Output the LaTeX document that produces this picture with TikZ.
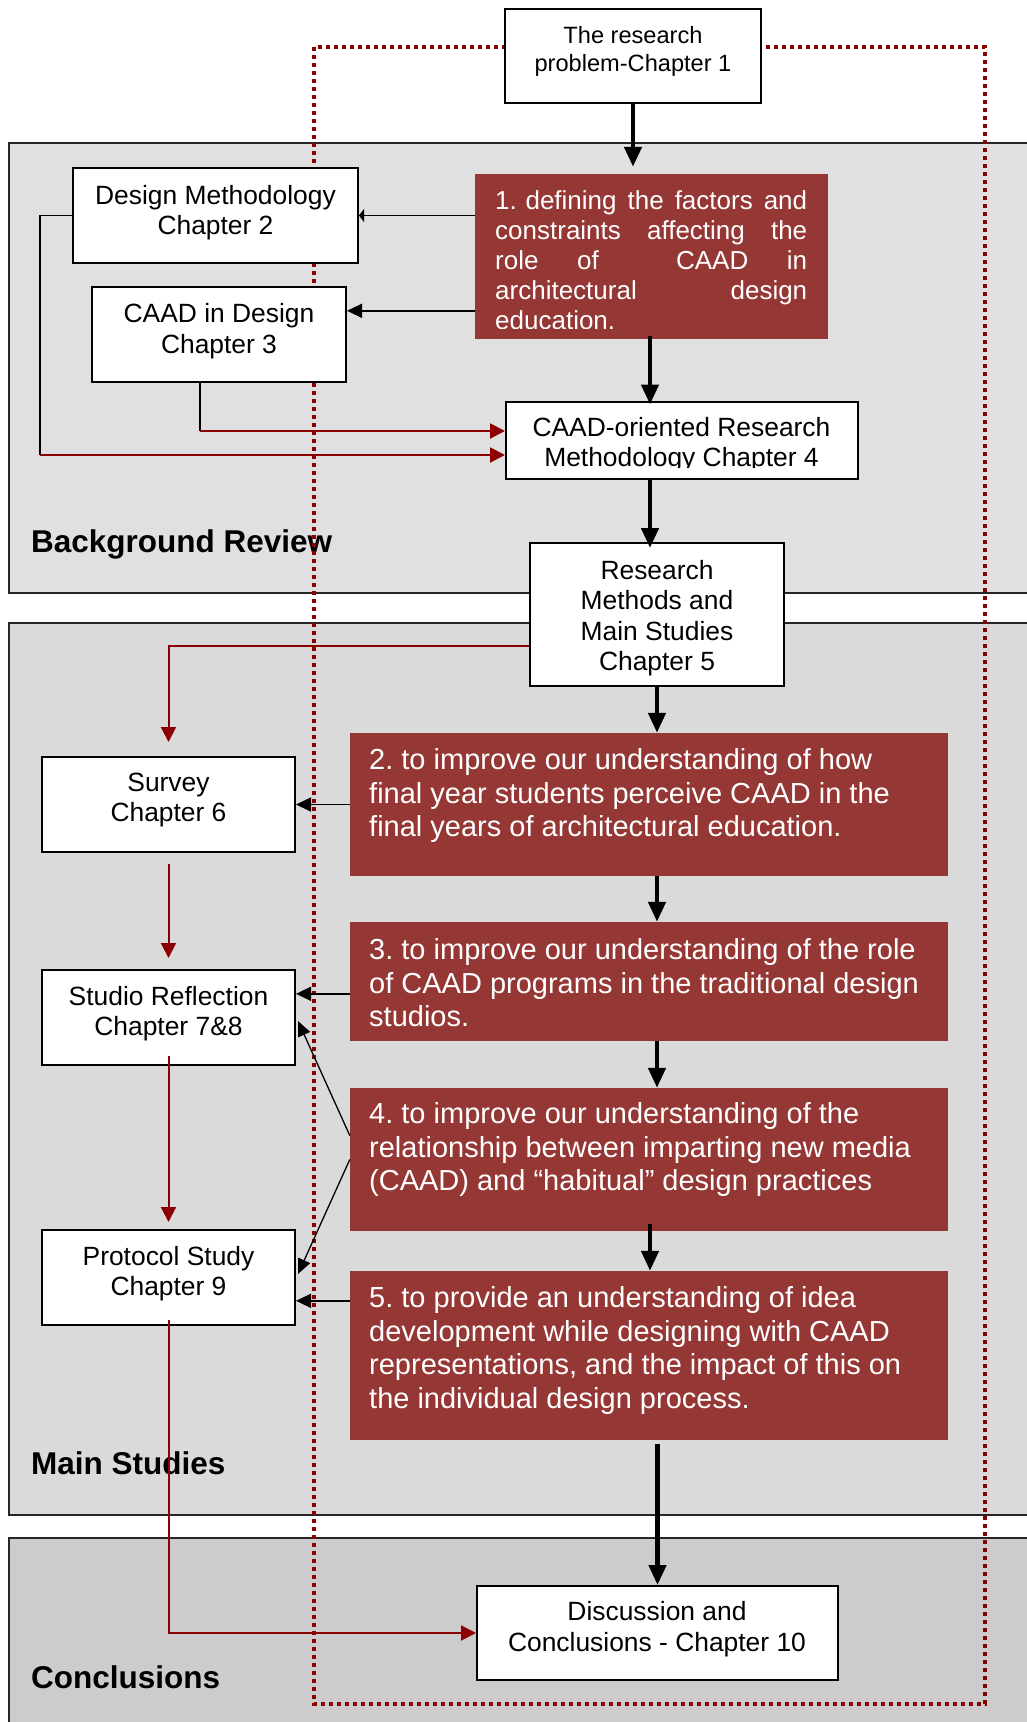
\documentclass[tikz,border=0pt]{standalone}
\usepackage{fontspec}
\setmainfont{Liberation Sans}
\usetikzlibrary{arrows.meta,calc}
\frenchspacing

\definecolor{panelA}{HTML}{E0E0E0}
\definecolor{panelB}{HTML}{DADADA}
\definecolor{panelC}{HTML}{CCCCCC}
\definecolor{aimred}{HTML}{953735}
\definecolor{linkred}{HTML}{8B0000}
\definecolor{dotred}{HTML}{8B0000}

\begin{document}
\begin{tikzpicture}[x=1pt,y=-1pt,
  panel/.style={draw=black!85, line width=1.8pt},
  chapbox/.style={draw=black, line width=2pt, fill=white, inner sep=0pt},
  aimbox/.style={fill=aimred, draw=none, inner sep=0pt},
  chaptext/.style={inner sep=0pt, align=center, anchor=north,
    font=\fontsize{26.4}{30.3}\selectfont},
  aimtext/.style={inner sep=0pt, align=left, anchor=north west, text=white,
    font=\fontsize{29}{33.8}\selectfont},
  paneltitle/.style={inner sep=0pt, anchor=base west,
    font=\bfseries\fontsize{31.5}{36}\selectfont},
  mainflow/.style={line width=4.5pt, -{Triangle[length=20pt,width=17pt]}},
  feed/.style={line width=1.5pt, -{Triangle[length=15pt,width=14pt]}},
  slant/.style={line width=1.3pt, -{Triangle[length=15pt,width=13pt]}},
  plainlink/.style={line width=1.5pt},
  redfeed/.style={draw=linkred, line width=2pt, -{Triangle[length=15pt,width=15pt]}},
  scopeline/.style={draw=dotred, line width=4pt, dash pattern=on 4pt off 4pt},
]
\useasboundingbox (0,0) rectangle (1027,1722);

% shaded bands
\path[panel, fill=panelA] (9,143) rectangle (1045,593);
\path[panel, fill=panelB] (9,623) rectangle (1045,1515);
\path[panel, fill=panelC] (9,1538) rectangle (1045,1740);

% band titles
\node[paneltitle] (t-bg)   at (31,552)  {Background Review};
\node[paneltitle] (t-main) at (31,1474) {Main Studies};
\node[paneltitle] (t-conc) at (31,1688) {Conclusions};

% dotted frame around the study core
\draw[scopeline] (314,47) rectangle (985,1704);

% chapter boxes
\node[chapbox, minimum width=256pt, minimum height=94pt]  (c1)  at (633,56) {};
\node[chapbox, minimum width=285pt, minimum height=95pt]  (ch2) at (215.5,215.5) {};
\node[chapbox, minimum width=254pt, minimum height=95pt]  (ch3) at (219,334.5) {};
\node[chapbox, minimum width=352pt, minimum height=77pt]  (ch4) at (682,440.5) {};
\node[chapbox, minimum width=254pt, minimum height=143pt] (ch5) at (657,614.5) {};
\node[chapbox, minimum width=253pt, minimum height=95pt]  (survey)   at (168.5,804.5) {};
\node[chapbox, minimum width=253pt, minimum height=95pt]  (studio)   at (168.5,1017.5) {};
\node[chapbox, minimum width=253pt, minimum height=95pt]  (protocol) at (168.5,1277.5) {};
\node[chapbox, minimum width=361pt, minimum height=94pt]  (ch10) at (657.5,1633) {};

\node[chaptext, font=\fontsize{23.6}{28}\selectfont] (c1-t) at (633,26)
  {The research\\problem-Chapter 1};
\node[chaptext] (ch2-t) at (215.5,185) {Design Methodology\\Chapter 2};
\node[chaptext] (ch3-t) at (219,303.6) {CAAD in Design\\Chapter 3};
\begin{scope}
  \clip (506,402) rectangle (858,467.7);
  \node[chaptext] (ch4-t) at (681.5,416.7) {CAAD-oriented Research\\Methodology Chapter 4};
\end{scope}
\node[chaptext] (ch5-t) at (657,560.3) {Research\\Methods and\\Main Studies\\Chapter 5};
\node[chaptext] (survey-t) at (168.5,772.7) {Survey\\Chapter 6};
\node[chaptext] (studio-t) at (168.5,985.8) {Studio Reflection\\Chapter 7\&8};
\node[chaptext] (protocol-t) at (168.5,1246) {Protocol Study\\Chapter 9};
\node[chaptext] (ch10-t) at (657,1601.6) {Discussion and\\Conclusions - Chapter 10};

% research aims
\node[aimbox, minimum width=353pt, minimum height=165pt] (r1) at (651.5,256.5) {};
\node[aimbox, minimum width=598pt, minimum height=143pt] (r2) at (649,804.5) {};
\node[aimbox, minimum width=598pt, minimum height=119pt] (r3) at (649,981.5) {};
\node[aimbox, minimum width=598pt, minimum height=143pt] (r4) at (649,1159.5) {};
\node[aimbox, minimum width=598pt, minimum height=169pt] (r5) at (649,1355.5) {};

\begin{scope}
  \clip (475,174) rectangle (828,328);
  \node[aimtext, text width=312pt, font=\fontsize{26}{30}\selectfont] (r1-t) at (495,190.3)
    {1. defining\hfill the\hfill factors\hfill and\\
     constraints\hfill affecting\hfill the\\
     role\hfill of\hfill\hfill CAAD\hfill in\\
     architectural\hfill design\\
     education.};
\end{scope}
\node[aimtext] (r2-t) at (369,748)
  {2. to improve our understanding of how\\final year students perceive CAAD in the\\final years of architectural education.};
\node[aimtext] (r3-t) at (369,938)
  {3. to improve our understanding of the role\\of CAAD programs in the traditional design\\studios.};
\node[aimtext] (r4-t) at (369,1102)
  {4. to improve our understanding of the\\relationship between imparting new media\\(CAAD) and “habitual” design practices};
\node[aimtext] (r5-t) at (369,1286)
  {5. to provide an understanding of idea\\development while designing with CAAD\\representations, and the impact of this on\\the individual design process.};

% main flow
\coordinate (spine) at ($(r1.south)+(-1.5,0)$);
\draw[mainflow, shorten >=7pt] (c1.south) -- (c1.south |- r1.north);
\draw[mainflow] ($(spine)+(0,-3)$) -- ($(spine |- ch4.north)+(0,3.5)$);
\draw[mainflow] (spine |- ch4.south) -- ($(spine |- ch5.north)+(0,6)$);
\draw[mainflow] (ch5.south) -- (ch5.south |- r2.north);
\draw[mainflow] (ch5.south |- r2.south) -- (ch5.south |- r3.north);
\draw[mainflow] (ch5.south |- r3.south) -- (ch5.south |- r4.north);
\draw[mainflow] ($(spine |- r4.south)+(0,-7)$) -- (spine |- r5.north);
\draw[mainflow] ($(ch10.north |- r5.south)+(0,4)$) -- (ch10.north);

% aim 1 feeding the review chapters
\draw[feed, -{Triangle[length=5pt,width=13pt]}] (r1.west |- ch2.east) -- (ch2.east);
\coordinate (a13) at ($(r1.north west)+(0,137)$);
\draw[feed] (a13) -- (ch3.east |- a13);

% review chapters into chapter 4
\coordinate (k2) at ($(ch4.west)+(0,14.5)$);
\coordinate (k3) at ($(ch4.west)+(0,-9.5)$);
\draw[plainlink] (ch2.west) -- ++(-32,0) coordinate (b2) -- (b2 |- k2);
\draw[redfeed] (b2 |- k2) -- (k2);
\draw[plainlink] ($(ch3.south west)+(109,0)$) coordinate (b3) -- (b3 |- k3);
\draw[redfeed] (b3 |- k3) -- (k3);

% sequence of main studies
\coordinate (k5) at ($(ch5.north west)+(0,104)$);
\draw[redfeed, shorten >=14pt] (k5) -| (survey.north);
\draw[redfeed] ($(survey.south)+(0,11)$) -- ($(studio.north)+(0,-11)$);
\draw[redfeed] ($(studio.south)+(0,-10)$) -- ($(protocol.north)+(0,-7)$);
\draw[redfeed] ($(protocol.south)+(0,-6)$) |- (ch10.west);

% aims feeding the studies
\draw[feed] (r2.west |- survey.east) -- (survey.east);
\coordinate (a3s) at ($(r3.north west)+(0,72)$);
\draw[feed] (a3s) -- (studio.east |- a3s);
\draw[slant] ($(r4.west)+(0,-24)$) -- ($(studio.east)+(2,3.5)$);
\draw[slant] (r4.west) -- ($(protocol.east)+(2,-3.5)$);
\coordinate (a5) at ($(r5.north west)+(0,30)$);
\draw[feed] (a5) -- (protocol.east |- a5);
\end{tikzpicture}
\end{document}
